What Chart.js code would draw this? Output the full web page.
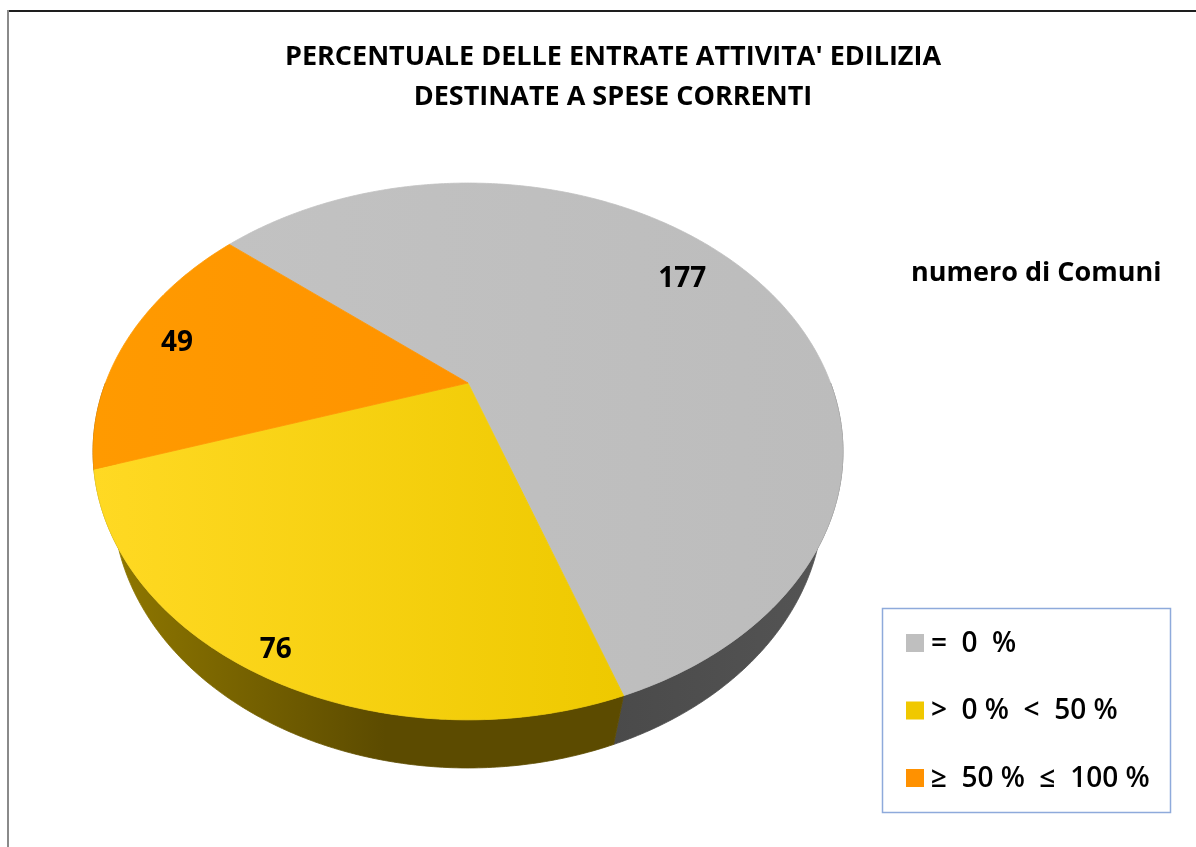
<!DOCTYPE html>
<html>
<head>
<meta charset="utf-8">
<script src="https://cdn.jsdelivr.net/npm/chart.js@4.4.1/dist/chart.umd.min.js"></script>
<style>
  html, body { margin: 0; padding: 0; background: #ffffff; overflow: hidden; }
  canvas { display: block; }
</style>
</head>
<body>
<canvas id="chart" width="1196" height="847"></canvas>
<script>
// ---- data ----
const titleLines = ["PERCENTUALE DELLE ENTRATE ATTIVITA' EDILIZIA", "DESTINATE A SPESE CORRENTI"];
const categories = ["=  0  %", ">  0 %  <  50 %", "≥  50 %  ≤  100 %"];
const comuni = [177, 76, 49];
const unitNote = "numero di Comuni";

// ---- styles ----
const swatchColors = ["#bfbfbf", "#f0c800", "#ff9100"];
const topGradients = [["#c2c2c2", "#bcbcbc"], ["#ffd923", "#eec900"], ["#ff9a00", "#ff9300"]];
const sideGradients = [["#4a4a4a", "#555555"], ["#927a00", "#5c4b00"], ["#8a5200", "#7a4800"]];
const labelRadius = [0.80, 0.94, 0.85];   // where each value sits along its slice
const FONT = "'Open Sans', 'DejaVu Sans', sans-serif";

// perspective camera for the tilted pie (units of the pie radius)
const view = { focal: 2.736, dist: 2.83, tilt: 43.8 * Math.PI / 180, depth: 0.214 };

function projector(cx, cy, R) {
  const S = Math.sin(view.tilt), C = Math.cos(view.tilt), F = view.focal * R, D = view.dist;
  return function (theta, r, h) {
    const x = r * Math.cos(theta), z = r * Math.sin(theta), y = -h;
    const den = D - y * S - z * C;
    return [cx + F * x / den, cy - F * (y * C - z * S) / den];
  };
}

function arcPoints(P, a, b, r, h) {
  const pts = [];
  const n = Math.max(2, Math.ceil(Math.abs(b - a) / 0.01));
  for (let i = 0; i <= n; i++) pts.push(P(a + (b - a) * i / n, r, h));
  return pts;
}

const pie3d = {
  id: 'pie3d',
  beforeDatasetsDraw(chart) {
    const ctx = chart.ctx;
    const arcs = chart.getDatasetMeta(0).data;
    const { x: cx, y: cy, outerRadius: R } = arcs[0];
    const P = projector(cx, cy, R);
    const H = view.depth;
    ctx.save();

    // outer walls (front half only: the back is hidden under the top)
    arcs.forEach((arc, i) => {
      const a = arc.startAngle, b = arc.endAngle;
      const ranges = [];
      for (let k = -1; k <= 1; k++) {
        const lo = Math.max(a, 2 * Math.PI * k), hi = Math.min(b, 2 * Math.PI * k + Math.PI);
        if (hi > lo) ranges.push([lo, hi]);
      }
      ranges.forEach(([lo, hi]) => {
        const top = arcPoints(P, lo, hi, 1, 0);
        const bot = arcPoints(P, hi, lo, 1, H);
        const all = top.concat(bot);
        const xs = all.map(p => p[0]);
        const g = ctx.createLinearGradient(Math.min(...xs), 0, Math.max(...xs), 0);
        g.addColorStop(0, sideGradients[i][0]);
        g.addColorStop(i === 1 ? 0.55 : 1, sideGradients[i][1]);
        g.addColorStop(1, sideGradients[i][1]);
        ctx.beginPath();
        all.forEach((p, j) => j ? ctx.lineTo(p[0], p[1]) : ctx.moveTo(p[0], p[1]));
        ctx.closePath();
        ctx.fillStyle = g;
        ctx.fill();
        ctx.strokeStyle = g;
        ctx.lineWidth = 0.8;
        ctx.stroke();
      });
    });

    // top faces
    arcs.forEach((arc, i) => {
      const pts = arcPoints(P, arc.startAngle, arc.endAngle, 1, 0);
      const c0 = P(0, 0, 0);
      const xs = pts.map(p => p[0]).concat([c0[0]]);
      const g = ctx.createLinearGradient(Math.min(...xs), 0, Math.max(...xs), 0);
      g.addColorStop(0, topGradients[i][0]);
      g.addColorStop(1, topGradients[i][1]);
      ctx.beginPath();
      ctx.moveTo(c0[0], c0[1]);
      pts.forEach(p => ctx.lineTo(p[0], p[1]));
      ctx.closePath();
      ctx.fillStyle = g;
      ctx.fill();
      ctx.strokeStyle = g;
      ctx.lineWidth = 0.8;
      ctx.stroke();
    });

    // value labels
    ctx.fillStyle = "#000";
    ctx.font = "bold 28px " + FONT;
    ctx.textAlign = "center";
    ctx.textBaseline = "middle";
    arcs.forEach((arc, i) => {
      const mid = (arc.startAngle + arc.endAngle) / 2;
      const p = P(mid, labelRadius[i], 0);
      ctx.fillText(String(comuni[i]), p[0], p[1] - 2);
    });
    ctx.restore();
    return false;
  },
  afterDraw(chart) {
    const ctx = chart.ctx;
    ctx.save();
    // frame
    ctx.fillStyle = "#1e1e1e";
    ctx.fillRect(7, 10, 1189, 2);
    ctx.fillStyle = "#8a8a8a";
    ctx.fillRect(7, 10, 2, 837);

    // title
    ctx.fillStyle = "#000";
    ctx.textAlign = "center";
    ctx.textBaseline = "middle";
    ctx.font = "bold 27px " + FONT;
    titleLines.forEach((t, i) => ctx.fillText(t, 613, 57 + i * 40));

    // unit note
    ctx.textAlign = "left";
    ctx.font = "bold 27px " + FONT;
    ctx.fillText(unitNote, 911, 273);

    // legend box
    ctx.strokeStyle = "#8eaadb";
    ctx.lineWidth = 1.5;
    ctx.strokeRect(882.5, 608.5, 288, 204);
    ctx.font = "600 28px " + FONT;
    categories.forEach((lab, i) => {
      const y = 643 + i * 67.5;
      ctx.fillStyle = swatchColors[i];
      ctx.fillRect(906, y - 9, 18, 18);
      ctx.fillStyle = "#000";
      ctx.fillText(lab, 931, y + 1);
    });
    ctx.restore();
  }
};

new Chart(document.getElementById('chart'), {
  type: 'pie',
  data: {
    labels: categories,
    datasets: [{ data: comuni, backgroundColor: swatchColors, borderWidth: 0 }]
  },
  options: {
    responsive: false,
    animation: false,
    rotation: -50,
    layout: { padding: { left: 0, right: 260, top: 8, bottom: 89 } },
    plugins: { legend: { display: false }, tooltip: { enabled: false }, title: { display: false } }
  },
  plugins: [pie3d]
});
</script>
</body>
</html>
